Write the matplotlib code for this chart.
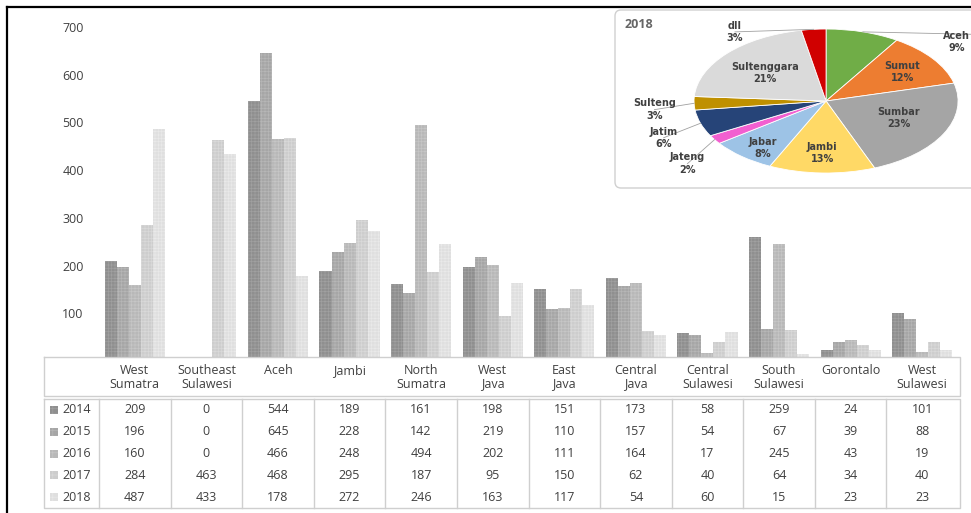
import matplotlib.pyplot as plt
from matplotlib.patches import FancyBboxPatch, Rectangle

# dados
regioes = ["West\nSumatra", "Southeast\nSulawesi", "Aceh", "Jambi", "North\nSumatra",
           "West\nJava", "East\nJava", "Central\nJava", "Central\nSulawesi",
           "South\nSulawesi", "Gorontalo", "West\nSulawesi"]
anos = ["2014", "2015", "2016", "2017", "2018"]
v2014 = [209, 0, 544, 189, 161, 198, 151, 173, 58, 259, 24, 101]
v2015 = [196, 0, 645, 228, 142, 219, 110, 157, 54, 67, 39, 88]
v2016 = [160, 0, 466, 248, 494, 202, 111, 164, 17, 245, 43, 19]
v2017 = [284, 463, 468, 295, 187, 95, 150, 62, 40, 64, 34, 40]
v2018 = [487, 433, 178, 272, 246, 163, 117, 54, 60, 15, 23, 23]
series = [v2014, v2015, v2016, v2017, v2018]
yticks = [100, 200, 300, 400, 500, 600, 700]

pie_labels = ["Aceh", "Sumut", "Sumbar", "Jambi", "Jabar", "Jateng", "Jatim",
              "Sulteng", "Sultenggara", "dll"]
pie_pct = [9, 12, 23, 13, 8, 2, 6, 3, 21, 3]

# estilo
cores = ["#8f8f8f", "#a6a6a6", "#b8b8b8", "#cdcdcd", "#dfdfdf"]
cores_hatch = ["#a0a0a0", "#b6b6b6", "#c6c6c6", "#d9d9d9", "#e9e9e9"]
pie_cores = ["#70ad47", "#ed7d31", "#a5a5a5", "#ffd966", "#9dc3e6", "#f25fd0",
             "#264478", "#bf9000", "#dadada", "#d00000"]
# posicao dos rotulos da pizza (unidades do raio)
pie_pos = [(0.99, 0.82), (0.58, 0.40), (0.55, -0.24), (-0.03, -0.72), (-0.48, -0.65),
           (-1.05, -0.87), (-1.23, -0.51), (-1.30, -0.12), (-0.46, 0.39), (-0.69, 0.96)]
fora = [True, False, False, False, False, True, True, True, False, True]

plt.rcParams['font.family'] = ['Open Sans', 'DejaVu Sans']
plt.rcParams['hatch.linewidth'] = 0.5

W, H = 971, 513
fig = plt.figure(figsize=(W / 100, H / 100), dpi=100)

# grafico de barras
ax = fig.add_axes([99 / W, (H - 361) / H, (958 - 99) / W, (361 - 27) / H])
largura = 0.168
x = list(range(len(regioes)))
for j, vals in enumerate(series):
    pos = [i + (j - 2) * largura for i in x]
    ax.bar(pos, vals, width=largura, color=cores[j], edgecolor=cores_hatch[j],
           linewidth=0, hatch='+++++')
ax.set_xlim(-0.5, len(regioes) - 0.5)
ax.set_ylim(0, 700)
ax.set_yticks(yticks)
ax.set_yticklabels([str(t) for t in yticks], fontsize=9, color="#404040")
ax.tick_params(axis='y', length=0, pad=11)
ax.set_xticks([])
for s in ax.spines.values():
    s.set_visible(False)

# camada em pixels: moldura e tabela
ov = fig.add_axes([0, 0, 1, 1], zorder=2)
ov.set_xlim(0, W)
ov.set_ylim(H, 0)
ov.axis('off')
ov.patch.set_alpha(0)

ov.plot([7, W], [7, 7], color="black", lw=1.6)
ov.plot([7, 7], [7, H], color="black", lw=1.6)

x0, x1 = 99, 958
cw = (x1 - x0) / len(regioes)
ov.add_patch(Rectangle((44, 357), 916, 156, facecolor="white", edgecolor="none"))
linha = "#cfcfcf"
ov.plot([44, 960, 960, 44, 44], [357, 357, 396, 396, 357], color=linha, lw=1)
ov.plot([44, 960, 960, 44, 44], [399, 399, 508, 508, 399], color=linha, lw=1)
for i in range(len(regioes)):
    xc = x0 + cw * (i + 0.5)
    ov.plot([x0 + cw * i, x0 + cw * i], [399, 508], color=linha, lw=1)
    ov.text(xc, 364, regioes[i], ha="center", va="top", fontsize=9,
            color="#404040", linespacing=1.05)
rh = (508 - 399) / len(anos)
for j, ano in enumerate(anos):
    yc = 399 + rh * (j + 0.5)
    ov.add_patch(Rectangle((50, yc - 4), 8, 8, facecolor=cores[j], edgecolor=cores_hatch[j],
                           linewidth=0, hatch='+++'))
    ov.text(62, yc, ano, ha="left", va="center", fontsize=9, color="#404040")
    for i, v in enumerate(series[j]):
        ov.text(x0 + cw * (i + 0.5), yc, str(v), ha="center", va="center",
                fontsize=9, color="#404040")

# caixa da pizza
ov.add_patch(FancyBboxPatch((615, 10), 380, 178, boxstyle="round,pad=0,rounding_size=6",
                            facecolor="white", edgecolor="#d0d0d0", lw=1))
ov.text(625, 24, "2018", ha="left", va="center", fontsize=9, fontweight="bold",
        color="#666666")

# pizza (eliptica)
pa = fig.add_axes([611 / W, (H - 188) / H, 360 / W, 178 / H], zorder=3)
pa.patch.set_alpha(0)
wedges, _ = pa.pie(pie_pct, colors=pie_cores, startangle=90, counterclock=False,
                   wedgeprops=dict(linewidth=0.6, edgecolor="white"))
pa.set_aspect('auto')
pa.set_xlim(-1.629, 1.098)
pa.set_ylim(-1.208, 1.264)
pa.axis('off')
import math
for w, nome, p, (lx, ly), f in zip(wedges, pie_labels, pie_pct, pie_pos, fora):
    pa.text(lx, ly, nome + "\n" + str(p) + "%", ha="center", va="center", fontsize=7,
            fontweight="bold", color="#404040", family="DejaVu Sans", linespacing=1.3)
    if f:
        ang = math.radians((w.theta1 + w.theta2) / 2)
        ex, ey = math.cos(ang), math.sin(ang)
        pa.plot([lx + (0.28 if lx > 0 else 0), ex], [ly + 0.1 if lx > 0 else ly, ey],
                color="#a0a0a0", lw=0.6)

fig.savefig("out.png", dpi=100)
